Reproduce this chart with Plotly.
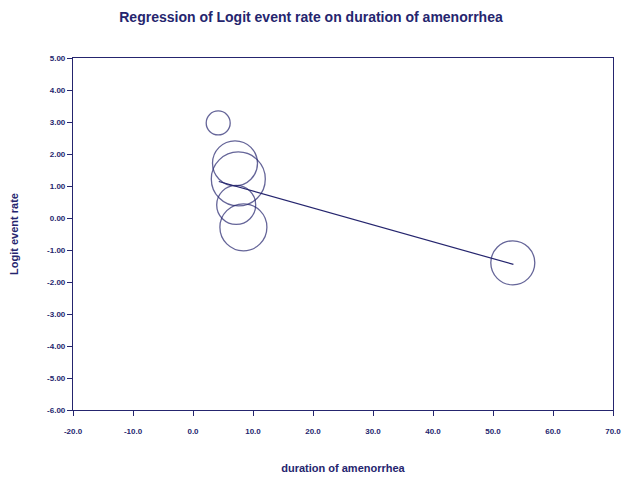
import plotly.graph_objects as go

duration = [4.2, 7.0, 7.55, 7.2, 8.4, 53.3]
logit_rate = [2.97, 1.71, 1.22, 0.41, -0.29, -1.40]
marker_diam = [24, 45, 54, 39, 47, 44]

reg_x = [4.3, 53.4]
reg_y = [1.14, -1.45]

x_ticks = [-20, -10, 0, 10, 20, 30, 40, 50, 60, 70]
y_ticks = [5, 4, 3, 2, 1, 0, -1, -2, -3, -4, -5, -6]

navy = "#25256e"
font_family = "Liberation Sans, Arial, sans-serif"

fig = go.Figure()
fig.add_trace(go.Scatter(
    x=duration, y=logit_rate, mode="markers",
    marker=dict(size=marker_diam, color="rgba(0,0,0,0)",
                line=dict(width=1.3, color=navy)),
    showlegend=False, hoverinfo="skip"))
fig.add_trace(go.Scatter(
    x=reg_x, y=reg_y, mode="lines",
    line=dict(width=1.2, color=navy), showlegend=False))

axis_common = dict(
    showgrid=False, zeroline=False, showline=True, linecolor=navy, linewidth=1.2,
    mirror=True, ticks="outside", ticklen=5, tickcolor=navy, tickwidth=1.2,
    automargin=False,
    tickfont=dict(family=font_family, size=8, color=navy, weight="bold"),
)

fig.update_layout(
    width=622, height=477,
    margin=dict(l=73, r=9, t=58, b=67),
    paper_bgcolor="white", plot_bgcolor="white",
    title=dict(text="<b>Regression of Logit event rate on duration of amenorrhea</b>",
               x=0.5, xref="container", xanchor="center",
               y=1 - 17/477, yref="container", yanchor="middle",
               font=dict(family=font_family, size=14, color=navy)),
    xaxis=dict(range=[-20, 70], tickvals=x_ticks,
               ticktext=[f"{v:.1f}" for v in x_ticks],
               ticklabelstandoff=8,
               title=dict(text="<b>duration of amenorrhea</b>", standoff=29,
                          font=dict(family=font_family, size=11, color=navy)),
               **axis_common),
    yaxis=dict(range=[-6, 5], tickvals=y_ticks,
               ticktext=[f"{v:.2f}" for v in y_ticks],
               title=dict(text="<b>Logit event rate</b>", standoff=26,
                          font=dict(family=font_family, size=11, color=navy)),
               **axis_common),
)

fig.write_html("out.html", config={"displayModeBar": False},
               post_script="document.body.style.margin='0';document.body.style.padding='0';")
